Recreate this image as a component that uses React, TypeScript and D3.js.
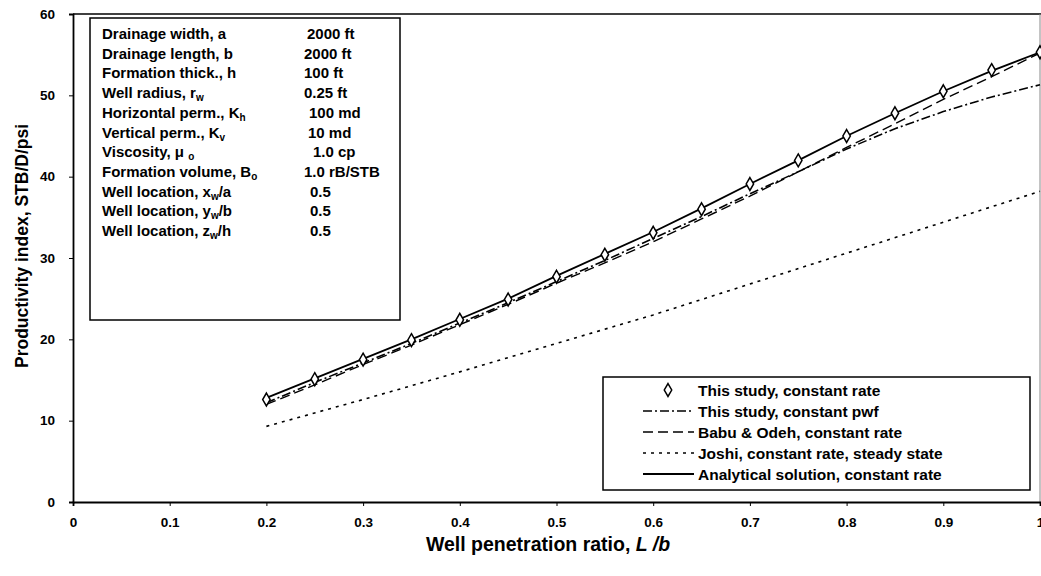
import { useEffect, useRef } from "react";
import * as d3 from "d3";

// x = well penetration ratio L/b
const ratios = [0.2, 0.25, 0.3, 0.35, 0.4, 0.45, 0.5, 0.55, 0.6, 0.65, 0.7, 0.75, 0.8, 0.85, 0.9, 0.95, 1.0];
const studyRate = [12.6, 15.1, 17.5, 19.9, 22.4, 24.9, 27.7, 30.4, 33.1, 36.0, 39.1, 42.0, 45.0, 47.8, 50.5, 53.1, 55.3];
const analytical = [12.8, 15.2, 17.6, 20.0, 22.5, 25.0, 27.8, 30.5, 33.2, 36.1, 39.1, 42.0, 45.0, 47.8, 50.5, 53.0, 55.3];
const studyPwf = [12.2, 14.7, 17.1, 19.5, 22.0, 24.5, 27.1, 29.7, 32.4, 35.1, 37.9, 40.6, 43.4, 45.9, 48.0, 49.8, 51.3];
const babuOdeh = [12.0, 14.4, 16.9, 19.3, 21.8, 24.3, 26.9, 29.4, 32.0, 34.8, 37.6, 40.6, 43.6, 46.5, 49.5, 52.3, 55.2];
const joshiRatios = [0.2, 0.3, 0.4, 0.5, 0.6, 0.7, 0.8, 0.9, 1.0];
const joshi = [9.3, 12.6, 16.0, 19.5, 23.0, 26.8, 30.6, 34.4, 38.2];

const xTicks = [0, 0.1, 0.2, 0.3, 0.4, 0.5, 0.6, 0.7, 0.8, 0.9, 1];
const yTicks = [0, 10, 20, 30, 40, 50, 60];

const paramLabels = [
  ["Drainage width, a", ""],
  ["Drainage length, b", ""],
  ["Formation thick., h", ""],
  ["Well radius, r", "w"],
  ["Horizontal perm., K", "h"],
  ["Vertical perm., K", "v"],
  ["Viscosity, \u03bc ", "o"],
  ["Formation volume, B", "o"],
  ["Well location, x", "w", "/a"],
  ["Well location, y", "w", "/b"],
  ["Well location, z", "w", "/h"],
];
const paramValues = ["2000 ft", "2000 ft", "100 ft", "0.25 ft", "100 md", "10 md", "1.0 cp", "1.0 rB/STB", "0.5", "0.5", "0.5"];
const paramValueShift = [3, 0, 0, 0, 5, 4, 9, 0, 6, 6, 6];

const legendNames = [
  "This study, constant rate",
  "This study, constant pwf",
  "Babu & Odeh, constant rate",
  "Joshi, constant rate, steady state",
  "Analytical solution, constant rate",
];

const App = () => {
  const svgRef = useRef(null);

  useEffect(() => {
    const svg = d3.select(svgRef.current);
    svg.selectAll("*").remove();
    const font = "'Liberation Sans', Arial, sans-serif";

    const x = d3.scaleLinear([0, 1], [73, 1040]);
    const y = d3.scaleLinear([0, 60], [502, 14]);

    // frame
    svg.append("line").attr("x1", 73).attr("x2", 1041).attr("y1", 14).attr("y2", 14).attr("stroke", "#000").attr("stroke-width", 1.5);
    svg.append("line").attr("x1", 1040).attr("x2", 1040).attr("y1", 14).attr("y2", 502).attr("stroke", "#888").attr("stroke-width", 1);

    const xAxis = svg.append("g").attr("transform", "translate(0,502)")
      .call(d3.axisBottom(x).tickValues(xTicks).tickSize(4).tickFormat((d) => String(d)));
    const yAxis = svg.append("g").attr("transform", "translate(73,0)")
      .call(d3.axisLeft(y).tickValues(yTicks).tickSize(4).tickFormat((d) => String(d)));
    [xAxis, yAxis].forEach((g) => {
      g.select(".domain").attr("stroke-width", 1.8);
      g.selectAll("text").style("font-family", font).style("font-size", "13.5px").style("font-weight", "bold").attr("fill", "#000");
    });
    xAxis.selectAll("text").attr("dy", "1.3em");
    yAxis.selectAll("text").attr("x", -18);

    // axis titles
    svg.append("text").attr("x", 548).attr("y", 551).attr("text-anchor", "middle")
      .style("font-family", font).style("font-size", "19.5px").style("font-weight", "bold")
      .text("Well penetration ratio, ")
      .append("tspan").style("font-style", "italic").text("L /b");
    svg.append("text").attr("transform", "translate(28,246) rotate(-90)").attr("text-anchor", "middle")
      .style("font-family", font).style("font-size", "17.5px").style("font-weight", "bold")
      .text("Productivity index,  STB/D/psi");

    const line = (xs, ys) => d3.line().x((d, i) => x(xs[i])).y((d) => y(d))(ys);

    const series = [
      { xs: ratios, ys: studyPwf, dash: "9,3,2,3", w: 1.6 },
      { xs: ratios, ys: babuOdeh, dash: "10,5", w: 1.4 },
      { xs: joshiRatios, ys: joshi, dash: "3,5", w: 1.6 },
      { xs: ratios, ys: analytical, dash: null, w: 1.8 },
    ];
    series.forEach((s) => {
      svg.append("path").attr("d", line(s.xs, s.ys)).attr("fill", "none").attr("stroke", "#000")
        .attr("stroke-width", s.w).attr("stroke-dasharray", s.dash);
    });

    const diamond = d3.symbol().type(d3.symbolDiamond).size(48);
    svg.append("g").selectAll("path").data(studyRate).join("path")
      .attr("transform", (d, i) => `translate(${x(ratios[i])},${y(d)})`)
      .attr("d", diamond()).attr("fill", "#fff").attr("stroke", "#000").attr("stroke-width", 1.5);

    // parameter box
    svg.append("rect").attr("x", 90).attr("y", 18).attr("width", 310).attr("height", 302)
      .attr("fill", "#fff").attr("stroke", "#000").attr("stroke-width", 1.5);
    paramLabels.forEach((p, i) => {
      const ty = 39 + i * 19.7;
      const t = svg.append("text").attr("x", 102).attr("y", ty)
        .style("font-family", font).style("font-size", "15px").style("font-weight", "bold");
      t.append("tspan").text(p[0]);
      if (p[1]) t.append("tspan").attr("dy", 3).style("font-size", "10px").text(p[1]);
      if (p[2]) t.append("tspan").attr("dy", -3).text(p[2]);
      svg.append("text").attr("x", 304 + paramValueShift[i]).attr("y", ty)
        .style("font-family", font).style("font-size", "15px").style("font-weight", "bold")
        .text(paramValues[i]);
    });

    // legend
    svg.append("rect").attr("x", 603).attr("y", 377).attr("width", 427).attr("height", 113)
      .attr("fill", "#fff").attr("stroke", "#000").attr("stroke-width", 1.5);
    const dashes = [null, "9,3,2,3", "10,5", "3,5", null];
    legendNames.forEach((name, i) => {
      const ly = 390 + i * 21;
      if (i === 0) {
        svg.append("path").attr("transform", `translate(668,${ly})`).attr("d", diamond())
          .attr("fill", "#fff").attr("stroke", "#000").attr("stroke-width", 1.5);
      } else {
        svg.append("line").attr("x1", 643).attr("x2", 694).attr("y1", ly).attr("y2", ly)
          .attr("stroke", "#000").attr("stroke-width", i === 4 ? 1.8 : 1.6).attr("stroke-dasharray", dashes[i]);
      }
      svg.append("text").attr("x", 698).attr("y", ly + 5.5)
        .style("font-family", font).style("font-size", "15.5px").style("font-weight", "bold")
        .text(name);
    });
  }, []);

  return <svg ref={svgRef} width={1041} height={576} style={{ position: "absolute", left: 0, top: 0, background: "#fff" }} />;
};

export default App;
